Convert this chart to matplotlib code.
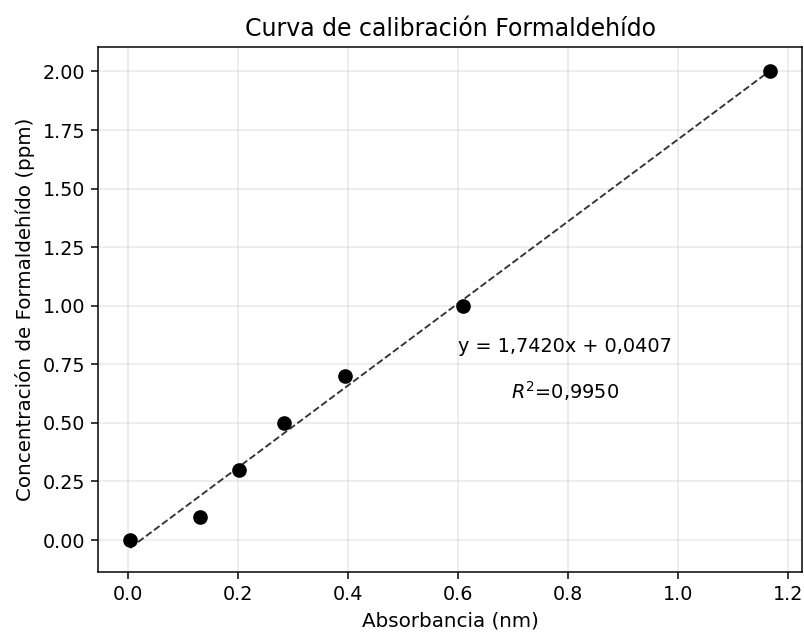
import numpy as np
import matplotlib.pyplot as plt

# absorbancia vs concentracion
absorbancia = np.array([0.004, 0.131, 0.202, 0.284, 0.395, 0.609, 1.168])
concentracion = np.array([0.0, 0.1, 0.3, 0.5, 0.7, 1.0, 2.0])

ecuacion = 'y = 1,7420x + 0,0407'
r2_texto = '$R^2$=0,9950'

m, b = np.polyfit(absorbancia, concentracion, 1)
x_fit = np.array([absorbancia.min(), absorbancia.max()])
y_fit = m * x_fit + b

fig = plt.figure(figsize=(804 / 135, 634 / 135), dpi=135)
ax = fig.add_subplot(111)
fig.subplots_adjust(left=0.122, right=0.9975, top=0.926, bottom=0.098)

ax.plot(absorbancia, concentracion, 'o', color='black', markersize=6.8, zorder=3)
ax.plot(x_fit, y_fit, '--', color='#333333', linewidth=1, zorder=2)

ax.text(0.795, 0.826, ecuacion, ha='center', va='center', fontsize=10.3)
ax.text(0.795, 0.634, r2_texto, ha='center', va='center', fontsize=10.3)

ax.set_xlabel('Absorbancia (nm)', fontsize=10.6)
ax.set_ylabel('Concentración de Formaldehído (ppm)', fontsize=10.6)
ax.set_title('Curva de calibración Formaldehído', fontsize=12.6)
ax.yaxis.set_major_formatter(plt.FormatStrFormatter('%.2f'))
ax.tick_params(labelsize=10.2)
ax.grid(True, alpha=0.3)

fig.savefig('out.png', dpi=135)
